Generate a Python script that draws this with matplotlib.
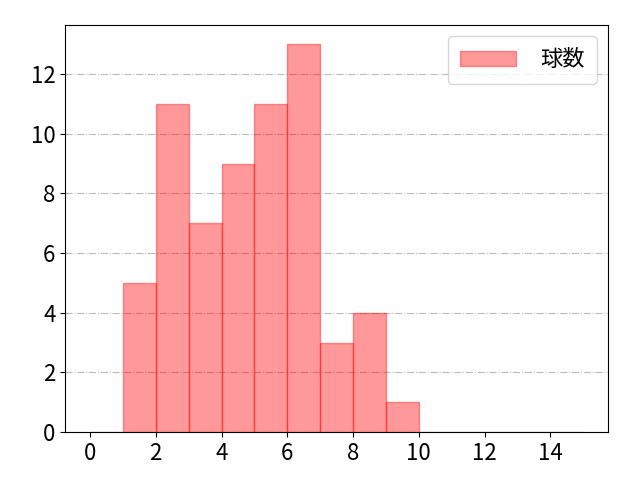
import matplotlib

matplotlib.use("Agg")

import matplotlib.pyplot as plt  # noqa: E402

plt.rcParams["font.family"] = ["Noto Sans CJK JP", "DejaVu Sans"]

# pitch counts per bin (bin left edges 0..14, width 1)
bin_left = list(range(15))
counts = [0, 5, 11, 7, 9, 11, 13, 3, 4, 1, 0, 0, 0, 0, 0]
label = "球数"

fig, ax = plt.subplots(figsize=(6.4, 4.8), dpi=100)
fig.subplots_adjust(left=0.102, right=0.95, top=0.948, bottom=0.1)
ax.bar(bin_left, counts, width=1, align="edge", color="red", edgecolor="red",
       alpha=0.4, label=label, zorder=2)
ax.grid(axis="y", linestyle="-.", color="#bbbbbb", linewidth=0.8, zorder=0)
ax.set_xticks([0, 2, 4, 6, 8, 10, 12, 14])
ax.tick_params(labelsize=16)
ax.legend(fontsize=16, loc="upper right", handlelength=2.5, handletextpad=1.1,
          borderpad=0.55)
fig.savefig("out.png", dpi=100)
